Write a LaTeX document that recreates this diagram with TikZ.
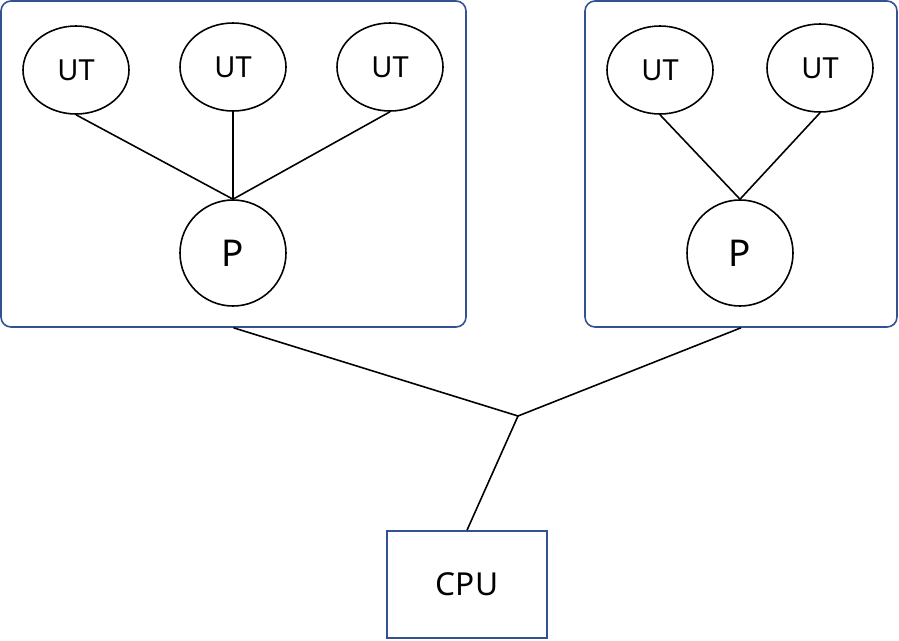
\documentclass[tikz,border=0pt]{standalone}
\usepackage{fontspec}
\setmainfont{Noto Sans}
\usetikzlibrary{shapes.geometric,positioning}
\definecolor{boxblue}{RGB}{50,82,145}

\begin{document}
\begin{tikzpicture}[x=0.2mm,y=-0.2mm]
  \tikzset{
    group/.style={draw=boxblue, line width=0.9pt, rounded corners=2mm, inner sep=0pt},
    thread/.style={ellipse, draw, line width=0.9pt, minimum width=21.2mm, minimum height=17.6mm, inner sep=0pt, font=\fontsize{16.5}{18}\selectfont},
    proc/.style={circle, draw, line width=0.9pt, minimum size=21.2mm, inner sep=0pt, font=\fontsize{21}{24}\selectfont},
    link/.style={line width=0.9pt}
  }
  % Fixed bounding box
  \path[use as bounding box] (0,0) rectangle (899,640);

  % Process groups
  \node[group, minimum width=93mm, minimum height=65.2mm] (grpA) at (233.5,164) {};
  \node[group, minimum width=62.4mm, minimum height=65.2mm] (grpB) at (741,164) {};

  % Left process with three threads
  \node[proc] (pA) at (233,253) {P};
  \node[thread] (utA1) at (76,70) {UT};
  \node[thread] (utA2) at (233,67) {UT};
  \node[thread] (utA3) at (390,67) {UT};
  \foreach \t in {utA1,utA2,utA3}
    \draw[link] (\t.south) -- (pA.north);

  % Right process with two threads
  \node[proc] (pB) at (740,253) {P};
  \node[thread] (utB1) at (660,70) {UT};
  \node[thread] (utB2) at (820,68) {UT};
  \foreach \t in {utB1,utB2}
    \draw[link] (\t.south) -- (pB.north);

  % CPU
  \node[draw=boxblue, line width=0.9pt, minimum width=32mm, minimum height=21.4mm, inner sep=0pt,
        font=\fontsize{18}{20}\selectfont] (cpu) at (467,584.5) {CPU};
  \coordinate (join) at (518,416);
  \draw[link] (grpA.south) -- (join) -- (cpu.north);
  \draw[link] (grpB.south) -- (join);
\end{tikzpicture}
\end{document}
